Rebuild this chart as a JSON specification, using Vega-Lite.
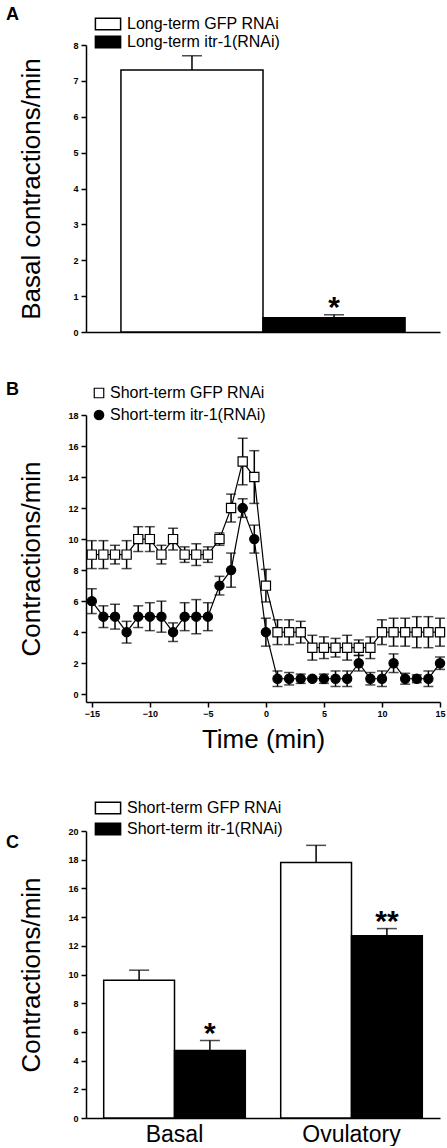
{
  "$schema": "https://vega.github.io/schema/vega-lite/v6.json",
  "background": "white",
  "padding": {"left": 6, "top": 6, "right": 0, "bottom": 0},
  "config": {
    "view": {"stroke": null},
    "font": "Liberation Sans",
    "axis": {"grid": false, "labelOverlap": false, "labelBound": false, "labelFlush": false, "labelSeparation": 0, "domainColor": "black", "domainWidth": 1.5, "tickColor": "black", "tickWidth": 1.5, "tickSize": 5, "labelFont": "Liberation Sans", "labelFontSize": 9, "labelFontWeight": "bold", "labelColor": "black", "labelPadding": 3, "titleFont": "Liberation Sans", "titleFontSize": 26, "titleFontWeight": "normal", "titleColor": "black"},
    "axisQuantitative": {"labelOverlap": false},
    "legend": {"labelFont": "Liberation Sans", "labelFontSize": 16, "labelColor": "black", "padding": 0, "titlePadding": 0},
    "title": {"font": "Liberation Sans", "fontSize": 18, "fontWeight": "bold", "anchor": "start", "frame": "group", "color": "black", "offset": 0}
  },
  "resolve": {
    "scale": {"fill": "independent", "color": "independent", "shape": "independent"},
    "legend": {"fill": "independent", "color": "independent", "shape": "independent"}
  },
  "bounds": "flush",
  "spacing": 40,
  "vconcat": [
    {
      "width": 354,
      "height": 287,
      "title": {"text": "A", "dx": -80, "dy": 12},
      "data": {"values": [
        {"group": "Long-term GFP RNAi", "mean": 7.3, "upper": 7.7, "sig": ""},
        {"group": "Long-term itr-1(RNAi)", "mean": 0.4, "upper": 0.48, "sig": "*"}
      ]},
      "encoding": {
        "x": {"field": "group", "type": "nominal", "sort": null, "scale": {"paddingInner": 0, "paddingOuter": 0.246}, "axis": {"labels": false, "ticks": false, "title": null}},
        "y": {"field": "mean", "type": "quantitative", "title": "Basal contractions/min", "scale": {"domain": [0, 8], "nice": false}, "axis": {"values": [0, 1, 2, 3, 4, 5, 6, 7, 8], "labelOverlap": false, "titleX": -47, "titleBaseline": "alphabetic"}}
      },
      "layer": [
        {
          "mark": {"type": "bar", "stroke": "black", "strokeWidth": 1.5},
          "encoding": {
            "fill": {"field": "group", "type": "nominal", "sort": null, "scale": {"domain": ["Long-term GFP RNAi", "Long-term itr-1(RNAi)"], "range": ["white", "black"]},
              "legend": {"orient": "none", "legendX": 14, "legendY": -29, "title": null, "symbolType": "M-2.1,-0.95H2.1V0.95H-2.1Z", "symbolSize": 144, "symbolStrokeColor": "black", "symbolStrokeWidth": 1.5, "labelOffset": 11, "rowPadding": 0}}
          }
        },
        {
          "mark": {"type": "rule", "strokeWidth": 1.5, "color": "black"},
          "encoding": {"y2": {"field": "upper"}}
        },
        {
          "mark": {"type": "tick", "size": 20, "thickness": 1.5, "color": "black"},
          "encoding": {"y": {"field": "upper", "type": "quantitative", "title": "Basal contractions/min"}}
        },
        {
          "mark": {"type": "text", "fontSize": 30, "fontWeight": "bold", "baseline": "alphabetic", "dy": 2, "color": "black"},
          "encoding": {"y": {"field": "upper", "type": "quantitative", "title": "Basal contractions/min"}, "text": {"field": "sig"}}
        }
      ]
    },
    {
      "width": 354,
      "height": 3,
      "data": {"values": []},
      "mark": "point"
    },
    {
      "width": 354,
      "height": 287,
      "title": {"text": "B", "dx": -80, "dy": 18},
      "data": {"values": [
        {"time": -15, "group": "Short-term GFP RNAi", "mean": 9, "sem": 0.9},
        {"time": -14, "group": "Short-term GFP RNAi", "mean": 9, "sem": 0.9},
        {"time": -13, "group": "Short-term GFP RNAi", "mean": 9, "sem": 0.6},
        {"time": -12, "group": "Short-term GFP RNAi", "mean": 9, "sem": 0.9},
        {"time": -11, "group": "Short-term GFP RNAi", "mean": 10, "sem": 0.8},
        {"time": -10, "group": "Short-term GFP RNAi", "mean": 10, "sem": 0.8},
        {"time": -9, "group": "Short-term GFP RNAi", "mean": 9, "sem": 0.6},
        {"time": -8, "group": "Short-term GFP RNAi", "mean": 10, "sem": 0.7},
        {"time": -7, "group": "Short-term GFP RNAi", "mean": 9, "sem": 0.5},
        {"time": -6, "group": "Short-term GFP RNAi", "mean": 9, "sem": 0.7},
        {"time": -5, "group": "Short-term GFP RNAi", "mean": 9, "sem": 0.5},
        {"time": -4, "group": "Short-term GFP RNAi", "mean": 10, "sem": 0.4},
        {"time": -3, "group": "Short-term GFP RNAi", "mean": 12, "sem": 0.9},
        {"time": -2, "group": "Short-term GFP RNAi", "mean": 15, "sem": 1.5},
        {"time": -1, "group": "Short-term GFP RNAi", "mean": 14, "sem": 1.7},
        {"time": 0, "group": "Short-term GFP RNAi", "mean": 7, "sem": 1.05},
        {"time": 1, "group": "Short-term GFP RNAi", "mean": 4, "sem": 0.8},
        {"time": 2, "group": "Short-term GFP RNAi", "mean": 4, "sem": 0.8},
        {"time": 3, "group": "Short-term GFP RNAi", "mean": 4, "sem": 0.7},
        {"time": 4, "group": "Short-term GFP RNAi", "mean": 3, "sem": 0.8},
        {"time": 5, "group": "Short-term GFP RNAi", "mean": 3, "sem": 0.7},
        {"time": 6, "group": "Short-term GFP RNAi", "mean": 3, "sem": 0.6},
        {"time": 7, "group": "Short-term GFP RNAi", "mean": 3, "sem": 0.8},
        {"time": 8, "group": "Short-term GFP RNAi", "mean": 3, "sem": 0.5},
        {"time": 9, "group": "Short-term GFP RNAi", "mean": 3, "sem": 0.7},
        {"time": 10, "group": "Short-term GFP RNAi", "mean": 4, "sem": 0.8},
        {"time": 11, "group": "Short-term GFP RNAi", "mean": 4, "sem": 0.9},
        {"time": 12, "group": "Short-term GFP RNAi", "mean": 4, "sem": 0.9},
        {"time": 13, "group": "Short-term GFP RNAi", "mean": 4, "sem": 1.0},
        {"time": 14, "group": "Short-term GFP RNAi", "mean": 4, "sem": 1.0},
        {"time": 15, "group": "Short-term GFP RNAi", "mean": 4, "sem": 0.9},
        {"time": -15, "group": "Short-term itr-1(RNAi)", "mean": 6, "sem": 0.8},
        {"time": -14, "group": "Short-term itr-1(RNAi)", "mean": 5, "sem": 0.7},
        {"time": -13, "group": "Short-term itr-1(RNAi)", "mean": 5, "sem": 0.8},
        {"time": -12, "group": "Short-term itr-1(RNAi)", "mean": 4, "sem": 0.7},
        {"time": -11, "group": "Short-term itr-1(RNAi)", "mean": 5, "sem": 0.7},
        {"time": -10, "group": "Short-term itr-1(RNAi)", "mean": 5, "sem": 0.9},
        {"time": -9, "group": "Short-term itr-1(RNAi)", "mean": 5, "sem": 1.0},
        {"time": -8, "group": "Short-term itr-1(RNAi)", "mean": 4, "sem": 0.6},
        {"time": -7, "group": "Short-term itr-1(RNAi)", "mean": 5, "sem": 0.9},
        {"time": -6, "group": "Short-term itr-1(RNAi)", "mean": 5, "sem": 1.1},
        {"time": -5, "group": "Short-term itr-1(RNAi)", "mean": 5, "sem": 0.9},
        {"time": -4, "group": "Short-term itr-1(RNAi)", "mean": 7, "sem": 0.6},
        {"time": -3, "group": "Short-term itr-1(RNAi)", "mean": 8, "sem": 1.1},
        {"time": -2, "group": "Short-term itr-1(RNAi)", "mean": 12, "sem": 0.6},
        {"time": -1, "group": "Short-term itr-1(RNAi)", "mean": 10, "sem": 0.9},
        {"time": 0, "group": "Short-term itr-1(RNAi)", "mean": 4, "sem": 0.9},
        {"time": 1, "group": "Short-term itr-1(RNAi)", "mean": 1, "sem": 0.5},
        {"time": 2, "group": "Short-term itr-1(RNAi)", "mean": 1, "sem": 0.4},
        {"time": 3, "group": "Short-term itr-1(RNAi)", "mean": 1, "sem": 0.3},
        {"time": 4, "group": "Short-term itr-1(RNAi)", "mean": 1, "sem": 0.1},
        {"time": 5, "group": "Short-term itr-1(RNAi)", "mean": 1, "sem": 0.3},
        {"time": 6, "group": "Short-term itr-1(RNAi)", "mean": 1, "sem": 0.5},
        {"time": 7, "group": "Short-term itr-1(RNAi)", "mean": 1, "sem": 0.5},
        {"time": 8, "group": "Short-term itr-1(RNAi)", "mean": 2, "sem": 0.5},
        {"time": 9, "group": "Short-term itr-1(RNAi)", "mean": 1, "sem": 0.4},
        {"time": 10, "group": "Short-term itr-1(RNAi)", "mean": 1, "sem": 0.5},
        {"time": 11, "group": "Short-term itr-1(RNAi)", "mean": 2, "sem": 0.6},
        {"time": 12, "group": "Short-term itr-1(RNAi)", "mean": 1, "sem": 0.35},
        {"time": 13, "group": "Short-term itr-1(RNAi)", "mean": 1, "sem": 0.25},
        {"time": 14, "group": "Short-term itr-1(RNAi)", "mean": 1, "sem": 0.5},
        {"time": 15, "group": "Short-term itr-1(RNAi)", "mean": 2, "sem": 0.4}
      ]},
      "encoding": {
        "x": {"field": "time", "type": "quantitative", "title": "Time (min)", "scale": {"domain": [-15.5, 15], "nice": false, "zero": false}, "axis": {"values": [-15, -10, -5, 0, 5, 10, 15], "labelOverlap": false, "titlePadding": 8, "labelPadding": 2}},
        "y": {"field": "mean", "type": "quantitative", "title": "Contractions/min", "scale": {"domain": [-0.5, 18], "nice": false, "zero": false}, "axis": {"values": [0, 2, 4, 6, 8, 10, 12, 14, 16, 18], "labelOverlap": false, "titleX": -47, "titleBaseline": "alphabetic"}}
      },
      "layer": [
        {
          "mark": {"type": "line", "color": "black", "strokeWidth": 1.2},
          "encoding": {"detail": {"field": "group"}}
        },
        {
          "mark": {"type": "errorbar", "ticks": true, "size": 10, "thickness": 1.5, "color": "black"},
          "encoding": {"yError": {"field": "sem"}, "detail": {"field": "group"}}
        },
        {
          "mark": {"type": "point", "filled": true, "stroke": "black", "strokeWidth": 1.2, "size": 85, "opacity": 1},
          "encoding": {
            "shape": {"field": "group", "type": "nominal", "scale": {"domain": ["Short-term GFP RNAi", "Short-term itr-1(RNAi)"], "range": ["square", "circle"]}, "legend": {"orient": "none", "legendX": 5, "legendY": -30, "title": null, "symbolSize": 90, "symbolStrokeColor": "black", "symbolStrokeWidth": 1.2, "labelOffset": 3, "rowPadding": 6}},
            "color": {"field": "group", "type": "nominal", "scale": {"domain": ["Short-term GFP RNAi", "Short-term itr-1(RNAi)"], "range": ["white", "black"]}, "legend": {"orient": "none", "legendX": 5, "legendY": -30, "title": null, "symbolSize": 90, "symbolStrokeColor": "black", "symbolStrokeWidth": 1.2, "labelOffset": 3, "rowPadding": 6}}
          }
        }
      ]
    },
    {
      "width": 354,
      "height": 49,
      "data": {"values": []},
      "mark": "point"
    },
    {
      "width": 354,
      "height": 287,
      "title": {"text": "C", "dx": -80, "dy": 55.5},
      "data": {"values": [
        {"condition": "Basal", "group": "Short-term GFP RNAi", "mean": 9.6, "upper": 10.3, "sig": ""},
        {"condition": "Basal", "group": "Short-term itr-1(RNAi)", "mean": 4.7, "upper": 5.4, "sig": "*"},
        {"condition": "Ovulatory", "group": "Short-term GFP RNAi", "mean": 17.8, "upper": 19.0, "sig": ""},
        {"condition": "Ovulatory", "group": "Short-term itr-1(RNAi)", "mean": 12.7, "upper": 13.2, "sig": "**"}
      ]},
      "encoding": {
        "x": {"field": "condition", "type": "nominal", "sort": null, "title": null, "scale": {"paddingInner": 0.2, "paddingOuter": 0.1}, "axis": {"ticks": false, "labelAngle": 0, "labelFontSize": 23, "labelFontWeight": "normal", "labelPadding": 5}},
        "xOffset": {"field": "group", "type": "nominal", "sort": null, "scale": {"paddingInner": 0, "paddingOuter": 0}},
        "y": {"field": "mean", "type": "quantitative", "title": "Contractions/min", "scale": {"domain": [0, 20], "nice": false}, "axis": {"values": [0, 2, 4, 6, 8, 10, 12, 14, 16, 18, 20], "labelOverlap": false, "titleX": -47, "titleBaseline": "alphabetic"}}
      },
      "layer": [
        {
          "mark": {"type": "bar", "stroke": "black", "strokeWidth": 1.5},
          "encoding": {
            "fill": {"field": "group", "type": "nominal", "sort": null, "scale": {"domain": ["Short-term GFP RNAi", "Short-term itr-1(RNAi)"], "range": ["white", "black"]},
              "legend": {"orient": "none", "legendX": 14, "legendY": -31, "title": null, "symbolType": "M-2.1,-0.95H2.1V0.95H-2.1Z", "symbolSize": 144, "symbolStrokeColor": "black", "symbolStrokeWidth": 1.5, "labelOffset": 11, "rowPadding": 3}}
          }
        },
        {
          "mark": {"type": "rule", "strokeWidth": 1.5, "color": "black"},
          "encoding": {"y2": {"field": "upper"}}
        },
        {
          "mark": {"type": "tick", "size": 20, "thickness": 1.5, "color": "black"},
          "encoding": {"y": {"field": "upper", "type": "quantitative", "title": "Contractions/min"}}
        },
        {
          "mark": {"type": "text", "fontSize": 30, "fontWeight": "bold", "baseline": "alphabetic", "dy": 2, "color": "black"},
          "encoding": {"y": {"field": "upper", "type": "quantitative", "title": "Contractions/min"}, "text": {"field": "sig"}}
        }
      ]
    }
  ]
}
